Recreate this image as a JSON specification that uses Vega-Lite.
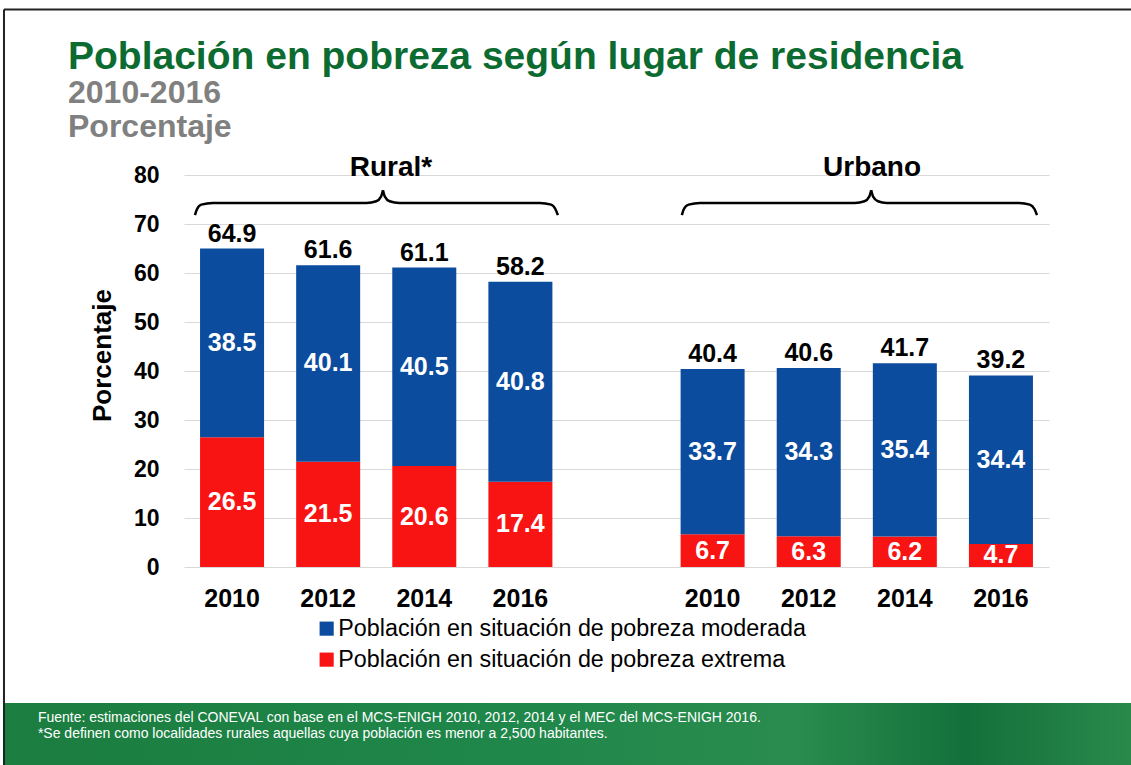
{
  "$schema": "https://vega.github.io/schema/vega-lite/v6.json",
  "width": 865,
  "height": 392,
  "autosize": {"type": "none"},
  "padding": {"left": 184, "top": 175, "right": 82, "bottom": 198},
  "background": "white",
  "config": {"view": {"stroke": null}, "font": "Liberation Sans"},
  "title": {
    "text": "Población en pobreza según lugar de residencia",
    "subtitle": ["2010-2016", "Porcentaje"],
    "anchor": "start",
    "frame": "group",
    "dx": -116,
    "dy": 139,
    "font": "Liberation Sans",
    "fontSize": 39,
    "fontWeight": "bold",
    "color": "#0C6B31",
    "subtitleFont": "Liberation Sans",
    "subtitleFontSize": 32,
    "subtitleFontWeight": "bold",
    "subtitleColor": "#808080",
    "subtitleLineHeight": 34,
    "subtitlePadding": 1
  },
  "datasets": {
    "segments": [
      {"key": "Rural 2010", "tipo": "a_extrema", "serie": "Población en situación de pobreza extrema", "valor": 26.5},
      {"key": "Rural 2010", "tipo": "b_moderada", "serie": "Población en situación de pobreza moderada", "valor": 38.5},
      {"key": "Rural 2012", "tipo": "a_extrema", "serie": "Población en situación de pobreza extrema", "valor": 21.5},
      {"key": "Rural 2012", "tipo": "b_moderada", "serie": "Población en situación de pobreza moderada", "valor": 40.1},
      {"key": "Rural 2014", "tipo": "a_extrema", "serie": "Población en situación de pobreza extrema", "valor": 20.6},
      {"key": "Rural 2014", "tipo": "b_moderada", "serie": "Población en situación de pobreza moderada", "valor": 40.5},
      {"key": "Rural 2016", "tipo": "a_extrema", "serie": "Población en situación de pobreza extrema", "valor": 17.4},
      {"key": "Rural 2016", "tipo": "b_moderada", "serie": "Población en situación de pobreza moderada", "valor": 40.8},
      {"key": "Urbano 2010", "tipo": "a_extrema", "serie": "Población en situación de pobreza extrema", "valor": 6.7},
      {"key": "Urbano 2010", "tipo": "b_moderada", "serie": "Población en situación de pobreza moderada", "valor": 33.7},
      {"key": "Urbano 2012", "tipo": "a_extrema", "serie": "Población en situación de pobreza extrema", "valor": 6.3},
      {"key": "Urbano 2012", "tipo": "b_moderada", "serie": "Población en situación de pobreza moderada", "valor": 34.3},
      {"key": "Urbano 2014", "tipo": "a_extrema", "serie": "Población en situación de pobreza extrema", "valor": 6.2},
      {"key": "Urbano 2014", "tipo": "b_moderada", "serie": "Población en situación de pobreza moderada", "valor": 35.4},
      {"key": "Urbano 2016", "tipo": "a_extrema", "serie": "Población en situación de pobreza extrema", "valor": 4.7},
      {"key": "Urbano 2016", "tipo": "b_moderada", "serie": "Población en situación de pobreza moderada", "valor": 34.4}
    ],
    "totals": [
      {"key": "Rural 2010", "total": 64.9},
      {"key": "Rural 2012", "total": 61.6},
      {"key": "Rural 2014", "total": 61.1},
      {"key": "Rural 2016", "total": 58.2},
      {"key": "Urbano 2010", "total": 40.4},
      {"key": "Urbano 2012", "total": 40.6},
      {"key": "Urbano 2014", "total": 41.7},
      {"key": "Urbano 2016", "total": 39.2}
    ],
    "braces": [
      {"seg": "r1", "u": 0.114, "v": 71.8}, {"seg": "r1", "u": 0.135, "v": 73.0}, {"seg": "r1", "u": 0.18, "v": 73.95}, {"seg": "r1", "u": 0.30, "v": 74.3},
      {"seg": "r1", "u": 1.90, "v": 74.3}, {"seg": "r1", "u": 2.00, "v": 74.65}, {"seg": "r1", "u": 2.05, "v": 75.6}, {"seg": "r1", "u": 2.07, "v": 76.9},
      {"seg": "r2", "u": 2.07, "v": 76.9}, {"seg": "r2", "u": 2.09, "v": 75.6}, {"seg": "r2", "u": 2.14, "v": 74.65}, {"seg": "r2", "u": 2.24, "v": 74.3},
      {"seg": "r2", "u": 3.70, "v": 74.3}, {"seg": "r2", "u": 3.82, "v": 73.95}, {"seg": "r2", "u": 3.865, "v": 73.0}, {"seg": "r2", "u": 3.89, "v": 71.8},
      {"seg": "u1", "u": 5.18, "v": 71.8}, {"seg": "u1", "u": 5.20, "v": 73.0}, {"seg": "u1", "u": 5.25, "v": 73.95}, {"seg": "u1", "u": 5.37, "v": 74.3},
      {"seg": "u1", "u": 6.98, "v": 74.3}, {"seg": "u1", "u": 7.08, "v": 74.65}, {"seg": "u1", "u": 7.13, "v": 75.6}, {"seg": "u1", "u": 7.15, "v": 76.9},
      {"seg": "u2", "u": 7.15, "v": 76.9}, {"seg": "u2", "u": 7.17, "v": 75.6}, {"seg": "u2", "u": 7.22, "v": 74.65}, {"seg": "u2", "u": 7.31, "v": 74.3},
      {"seg": "u2", "u": 8.69, "v": 74.3}, {"seg": "u2", "u": 8.80, "v": 73.95}, {"seg": "u2", "u": 8.85, "v": 73.0}, {"seg": "u2", "u": 8.875, "v": 71.8}
    ],
    "groups": [
      {"label": "Rural*", "u": 2.154, "v": 81.5},
      {"label": "Urbano", "u": 7.159, "v": 81.5}
    ],
    "footer": [
      {"u": -1.883, "u2": 9.9, "v": -27.76, "v2": -41}
    ],
    "notes": [
      {"u": -1.52, "v": -30.9, "nota": "Fuente: estimaciones del CONEVAL con base en el MCS-ENIGH 2010, 2012, 2014 y el MEC del MCS-ENIGH 2016."},
      {"u": -1.52, "v": -34.0, "nota": "*Se definen como localidades rurales aquellas cuya población es menor a 2,500 habitantes."}
    ],
    "frame_h": [
      {"u": -1.873, "u2": 9.9, "v": 113.8}
    ],
    "frame_v": [
      {"u": -1.873, "v": 113.8, "v2": -41}
    ]
  },
  "resolve": {"scale": {"x": "independent", "y": "independent"}},
  "layer": [
    {
      "layer": [
        {
          "data": {"name": "segments"},
          "mark": {"type": "bar", "clip": false},
          "encoding": {
            "x": {
              "field": "key",
              "type": "nominal",
              "title": null,
              "scale": {
                "domain": ["Rural 2010", "Rural 2012", "Rural 2014", "Rural 2016", " ", "Urbano 2010", "Urbano 2012", "Urbano 2014", "Urbano 2016"],
                "paddingInner": 0.334,
                "paddingOuter": 0.167
              },
              "axis": {
                "title": null,
                "labelExpr": "substring(datum.value, length(datum.value) - 4)",
                "labelAngle": 0,
                "labelFont": "Liberation Sans",
                "labelFontSize": 25,
                "labelFontWeight": "bold",
                "labelColor": "black",
                "labelPadding": 19,
                "ticks": false,
                "domain": false,
                "grid": false
              }
            },
            "y": {
              "field": "valor",
              "type": "quantitative",
              "title": "Porcentaje",
              "stack": "zero",
              "scale": {"domain": [0, 80], "nice": false},
              "axis": {
                "title": "Porcentaje",
                "values": [0, 10, 20, 30, 40, 50, 60, 70, 80],
                "titleFont": "Liberation Sans",
                "titleFontSize": 26,
                "titleFontWeight": "bold",
                "titleColor": "black",
                "titlePadding": 18,
                "titleY": 180,
                "labelFont": "Liberation Sans",
                "labelFontSize": 23,
                "labelFontWeight": "bold",
                "labelColor": "black",
                "labelPadding": 25,
                "ticks": false,
                "domain": false,
                "grid": true,
                "gridColor": "#D9D9D9",
                "gridWidth": 1
              }
            },
            "color": {
              "field": "serie",
              "type": "nominal",
              "scale": {
                "domain": ["Población en situación de pobreza moderada", "Población en situación de pobreza extrema"],
                "range": ["#0B4C9E", "#F91414"]
              },
              "legend": {
                "title": null,
                "orient": "none",
                "legendX": 131,
                "legendY": 442,
                "direction": "vertical",
                "symbolType": "square",
                "symbolSize": 200,
                "symbolStrokeWidth": 0,
                "labelFont": "Liberation Sans",
                "labelFontSize": 23.3,
                "labelColor": "black",
                "labelOffset": 0,
                "rowPadding": 7,
                "labelLimit": 700
              }
            },
            "order": {"field": "tipo", "type": "ordinal", "sort": "ascending"}
          }
        },
        {
          "data": {"name": "segments"},
          "transform": [
            {"stack": "valor", "groupby": ["key"], "sort": [{"field": "tipo", "order": "ascending"}], "as": ["v0", "v1"]},
            {"calculate": "(datum.v0 + datum.v1) / 2", "as": "mid"}
          ],
          "mark": {"type": "text", "color": "white", "font": "Liberation Sans", "fontSize": 25, "fontWeight": "bold", "baseline": "middle", "clip": false},
          "encoding": {
            "x": {"field": "key", "type": "nominal", "title": null},
            "y": {"field": "mid", "type": "quantitative", "title": "Porcentaje", "scale": {"domain": [0, 80], "nice": false}},
            "text": {"field": "valor", "type": "quantitative", "format": ".1f"}
          }
        },
        {
          "data": {"name": "totals"},
          "mark": {"type": "text", "color": "black", "font": "Liberation Sans", "fontSize": 25, "fontWeight": "bold", "baseline": "alphabetic", "dy": -7, "clip": false},
          "encoding": {
            "x": {"field": "key", "type": "nominal", "title": null},
            "y": {"field": "total", "type": "quantitative", "title": "Porcentaje", "scale": {"domain": [0, 80], "nice": false}},
            "text": {"field": "total", "type": "quantitative", "format": ".1f"}
          }
        }
      ]
    },
    {
      "layer": [
        {
          "data": {"name": "footer"},
          "mark": {
            "type": "rect",
            "clip": false,
            "color": {
              "gradient": "linear",
              "x1": 0, "y1": 0, "x2": 1, "y2": 0,
              "stops": [
                {"offset": 0, "color": "#1B7D3F"},
                {"offset": 0.45, "color": "#1F874A"},
                {"offset": 0.7, "color": "#2A8C4E"},
                {"offset": 0.85, "color": "#13703A"},
                {"offset": 1, "color": "#2A8A4C"}
              ]
            }
          },
          "encoding": {
            "x": {"field": "u", "type": "quantitative", "scale": {"domain": [0, 9], "nice": false, "zero": false}, "axis": null},
            "x2": {"field": "u2"},
            "y": {"field": "v", "type": "quantitative", "scale": {"domain": [0, 80], "nice": false}, "axis": null},
            "y2": {"field": "v2"}
          }
        },
        {
          "data": {"name": "notes"},
          "mark": {"type": "text", "color": "white", "font": "Liberation Sans", "fontSize": 14, "align": "left", "baseline": "middle", "clip": false},
          "encoding": {
            "x": {"field": "u", "type": "quantitative", "scale": {"domain": [0, 9], "nice": false, "zero": false}, "axis": null},
            "y": {"field": "v", "type": "quantitative", "scale": {"domain": [0, 80], "nice": false}, "axis": null},
            "text": {"field": "nota", "type": "nominal"}
          }
        },
        {
          "data": {"name": "frame_h"},
          "mark": {"type": "rule", "color": "#222222", "strokeWidth": 2, "clip": false},
          "encoding": {
            "x": {"field": "u", "type": "quantitative", "scale": {"domain": [0, 9], "nice": false, "zero": false}, "axis": null},
            "x2": {"field": "u2"},
            "y": {"field": "v", "type": "quantitative", "scale": {"domain": [0, 80], "nice": false}, "axis": null}
          }
        },
        {
          "data": {"name": "frame_v"},
          "mark": {"type": "rule", "color": "#222222", "strokeWidth": 2, "clip": false},
          "encoding": {
            "x": {"field": "u", "type": "quantitative", "scale": {"domain": [0, 9], "nice": false, "zero": false}, "axis": null},
            "y": {"field": "v", "type": "quantitative", "scale": {"domain": [0, 80], "nice": false}, "axis": null},
            "y2": {"field": "v2"}
          }
        },
        {
          "data": {"name": "braces"},
          "mark": {"type": "line", "color": "black", "strokeWidth": 2.5, "interpolate": "monotone", "clip": false},
          "encoding": {
            "x": {"field": "u", "type": "quantitative", "scale": {"domain": [0, 9], "nice": false, "zero": false}, "axis": null},
            "y": {"field": "v", "type": "quantitative", "scale": {"domain": [0, 80], "nice": false}, "axis": null},
            "detail": {"field": "seg", "type": "nominal"}
          }
        },
        {
          "data": {"name": "groups"},
          "mark": {"type": "text", "color": "black", "font": "Liberation Sans", "fontSize": 28, "fontWeight": "bold", "baseline": "middle", "clip": false},
          "encoding": {
            "x": {"field": "u", "type": "quantitative", "scale": {"domain": [0, 9], "nice": false, "zero": false}, "axis": null},
            "y": {"field": "v", "type": "quantitative", "scale": {"domain": [0, 80], "nice": false}, "axis": null},
            "text": {"field": "label", "type": "nominal"}
          }
        }
      ]
    }
  ]
}
